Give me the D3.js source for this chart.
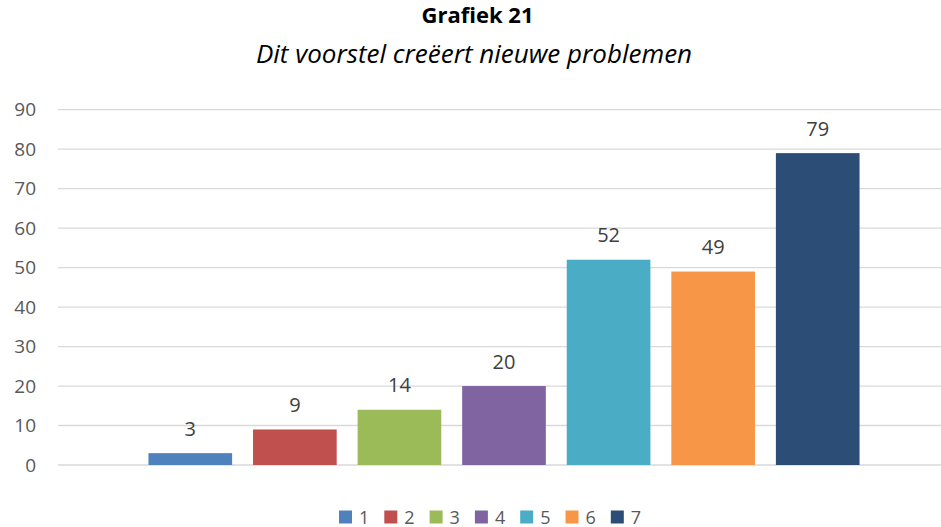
<!DOCTYPE html>
<html>
<head>
<meta charset="utf-8">
<script src="https://cdn.jsdelivr.net/npm/d3@7"></script>
<style>
  html, body { margin: 0; padding: 0; background: #fff; }
  text { font-family: "Open Sans", sans-serif; }
</style>
</head>
<body>
<svg id="chart" width="941" height="527"></svg>
<script>
// chart data
var series = ["1", "2", "3", "4", "5", "6", "7"];
var values = [3, 9, 14, 20, 52, 49, 79];
var colors = ["#4F81BD", "#C0504D", "#9BBB59", "#8064A2", "#4BACC6", "#F79646", "#2C4D75"];
var yTicks = [0, 10, 20, 30, 40, 50, 60, 70, 80, 90];
var title = "Grafiek 21";
var subtitle = "Dit voorstel creëert nieuwe problemen";

var width = 941, height = 527;
var margin = { top: 110, right: 0, bottom: 62, left: 58 };

var svg = d3.select("#chart");

var x = d3.scaleBand()
    .domain(series)
    .range([138, 870])
    .paddingInner(0.2)
    .paddingOuter(0.1);

var y = d3.scaleLinear()
    .domain([0, 90])
    .range([465, 109.7]);

// gridlines
svg.append("g")
    .selectAll("line")
    .data(yTicks)
    .join("line")
    .attr("x1", margin.left)
    .attr("x2", width)
    .attr("y1", function (d) { return y(d); })
    .attr("y2", function (d) { return y(d); })
    .attr("stroke", "#d9d9d9")
    .attr("stroke-width", 1.3);

// y axis labels
var yAxis = function (g) { return g
    .attr("transform", "translate(36,0)")
    .call(d3.axisLeft(y).tickValues(yTicks).tickSize(0).tickPadding(0))
    .call(function (g) { g.select(".domain").remove(); })
    .call(function (g) { g.selectAll("text")
        .attr("fill", "#595959")
        .attr("font-size", "19px")
        .attr("font-family", "Open Sans, sans-serif"); }); };
svg.append("g").call(yAxis);

// bars
svg.append("g")
    .selectAll("rect")
    .data(values)
    .join("rect")
    .attr("x", function (d, i) { return x(series[i]); })
    .attr("width", x.bandwidth())
    .attr("y", function (d) { return y(d); })
    .attr("height", function (d) { return y(0) - y(d); })
    .attr("fill", function (d, i) { return colors[i]; });

// value labels
svg.append("g")
    .selectAll("text")
    .data(values)
    .join("text")
    .attr("x", function (d, i) { return x(series[i]) + x.bandwidth() / 2; })
    .attr("y", function (d) { return y(d) - 17.5; })
    .attr("text-anchor", "middle")
    .attr("fill", "#404040")
    .attr("font-size", "20px")
    .text(function (d) { return d; });

// titles
svg.append("text")
    .attr("x", 477.5)
    .attr("y", 23)
    .attr("text-anchor", "middle")
    .attr("font-weight", "bold")
    .attr("font-size", "22px")
    .attr("fill", "#000")
    .text(title);

svg.append("text")
    .attr("x", 474)
    .attr("y", 63)
    .attr("text-anchor", "middle")
    .attr("font-style", "italic")
    .attr("font-size", "26px")
    .attr("fill", "#000")
    .text(subtitle);

// legend
var legendItem = svg.append("g")
    .selectAll("g")
    .data(series)
    .join("g")
    .attr("transform", function (d, i) { return "translate(" + (339 + i * 45.3) + ",510.5)"; });

legendItem.append("rect")
    .attr("width", 13)
    .attr("height", 13)
    .attr("fill", function (d, i) { return colors[i]; });

legendItem.append("text")
    .attr("x", 20)
    .attr("y", 13)
    .attr("fill", "#595959")
    .attr("font-size", "18px")
    .text(function (d) { return d; });
</script>
</body>
</html>
